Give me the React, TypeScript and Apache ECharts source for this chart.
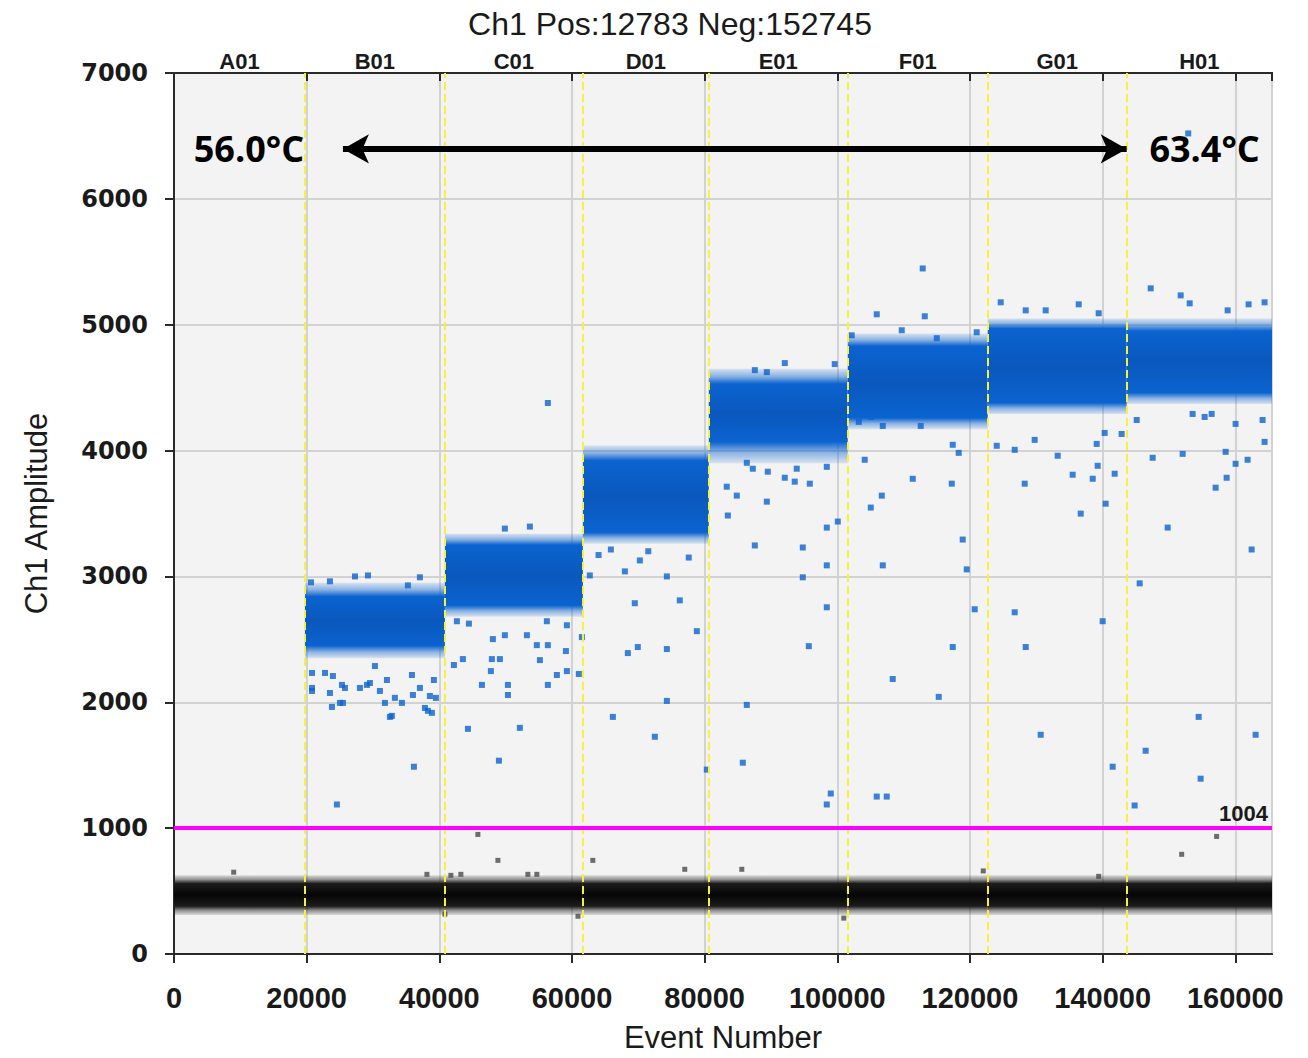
import React, { useEffect, useRef } from "react";
import * as echarts from "echarts";

// ---------- data ----------
const wellNames = ["A01", "B01", "C01", "D01", "E01", "F01", "G01", "H01"];
const wellStarts = [0, 19740, 40840, 61640, 80620, 101570, 122670, 143620];
const totalEvents = 165528;
const posCount = 12783;
const negCount = 152745;
const threshold = 1004;
const tempLow = "56.0°C";
const tempHigh = "63.4°C";

// positive droplet cluster per well (null = no cluster): dense core and outer spread
const posCoreLo = [null, 2450, 2770, 3350, 4070, 4260, 4380, 4460];
const posCoreHi = [null, 2840, 3250, 3920, 4530, 4830, 4970, 4950];
const posSpreadLo = [null, 2350, 2680, 3260, 3900, 4170, 4290, 4370];
const posSpreadHi = [null, 2950, 3340, 4040, 4650, 4930, 5050, 5050];

// negative droplet cluster per well
const negCoreLo = [380, 380, 380, 380, 380, 380, 380, 380];
const negCoreHi = [560, 560, 560, 560, 560, 560, 560, 560];
const negSpreadLo = [310, 310, 310, 310, 310, 310, 310, 310];
const negSpreadHi = [625, 625, 625, 625, 625, 625, 625, 625];

// isolated positive droplets [event, amplitude]
const bluePoints = [
  [24560, 1188], [36170, 1488], [20800, 2114], [22760, 2233], [25020, 1995], [25770, 2114],
  [28030, 2114], [29540, 2153], [31800, 1995], [32850, 1892], [34360, 1995], [37070, 2114],
  [37830, 1955], [38580, 2050], [38880, 1916], [39480, 2035], [30290, 2288], [20800, 2233],
  [23960, 2209], [25320, 2138], [20800, 2090], [23510, 2074], [23810, 1963], [25470, 1995],
  [29090, 2138], [32100, 2177], [31040, 2090], [32550, 1884], [33300, 2035], [35870, 2217],
  [36020, 2058], [38280, 1932], [39180, 2177],
  [29240, 3008], [37070, 2993], [20650, 2953], [23510, 2961], [35260, 2929], [27280, 3000],
  [44310, 1789], [48980, 1536], [52140, 1797], [42650, 2644], [44460, 2625], [48070, 2502],
  [49880, 2533], [53200, 2533], [54700, 2454], [56210, 2644], [56360, 2454], [59230, 2612],
  [59080, 2407], [57720, 2217], [59230, 2248], [61030, 2225], [61490, 2518], [42200, 2296],
  [43550, 2343], [47770, 2248], [47920, 2343], [49130, 2343], [46420, 2138], [50340, 2138],
  [50340, 2058], [56360, 2138], [55160, 2335], [53650, 3396], [49880, 3380], [56360, 4378],
  [65860, 3214], [67970, 3040], [69470, 2787], [70230, 3127], [74300, 3000], [76250, 2810],
  [78820, 2565], [68420, 2391], [69920, 2439], [74300, 2423], [74300, 2011], [66160, 1884],
  [72490, 1726], [80320, 1465], [62690, 3008], [64000, 3170], [71500, 3200], [77600, 3150],
  [83330, 3713], [84840, 3642], [83490, 3484], [87560, 3246], [89370, 3594], [94790, 3230],
  [94790, 2993], [98410, 3388], [98410, 3088], [98410, 2755], [95700, 2446], [86350, 1979],
  [85750, 1520], [98410, 1188], [99010, 1275], [100070, 3436],
  [86350, 3903], [87260, 3856], [89520, 3832], [92080, 3784], [93580, 3753], [95850, 3737],
  [98410, 3871], [93880, 3856], [92080, 4695], [99610, 4687], [87560, 4639], [89370, 4623],
  [112870, 5447], [105940, 5083], [113180, 5067], [102170, 4916], [109710, 4956], [114990, 4893],
  [121010, 4940], [103230, 4228], [105040, 4267], [106850, 4196], [112570, 4196], [117400, 4046],
  [118300, 3982], [104130, 3927], [106700, 3642], [105040, 3547], [111370, 3776], [117250, 3737],
  [118900, 3293], [106850, 3088], [119510, 3056], [120710, 2739], [117400, 2439], [108350, 2185],
  [115290, 2043], [105940, 1251], [107450, 1251],
  [124630, 5178], [147240, 5289], [136390, 5162], [131410, 5114], [128400, 5114], [139400, 5091],
  [151760, 5233], [153120, 5170], [162000, 5162], [164410, 5178], [158840, 5114],
  [124030, 4038], [126740, 4006], [129750, 4085], [133220, 3959], [135480, 3808], [139100, 4053],
  [139250, 3879], [138500, 3776], [141810, 3816], [140450, 3578], [136690, 3499], [128250, 3737],
  [140300, 4140], [142860, 4132], [126740, 2715], [128400, 2439], [140000, 2644], [130660, 1742],
  [141510, 1488],
  [147540, 3943], [152060, 3974], [158540, 3990], [160040, 3895], [161850, 3927], [164410, 4069],
  [157030, 3705], [158690, 3784], [149800, 3388], [162460, 3214], [145580, 2945], [146480, 1615],
  [154470, 1884], [154770, 1393], [163060, 1742], [144820, 1180], [145130, 4243], [153560, 4291],
  [155370, 4267], [156430, 4291], [160040, 4212], [164110, 4243], [152900, 6520]
];

// isolated negative droplets [event, amplitude]
const grayPoints = [
  [45810, 950], [48830, 744], [63140, 744], [77000, 673], [85600, 673], [38130, 633],
  [41740, 625], [43250, 633], [53350, 633], [54700, 633], [100970, 285], [157180, 934],
  [151910, 792], [139400, 617], [40840, 317], [9000, 650], [60900, 300], [122000, 660]
];

const xTickInterval = 20000;
const yMax = 7000;
const yTickInterval = 1000;

// ---------- chart ----------
function bands(lo: (number | null)[], hi: (number | null)[], cLo: (number | null)[], cHi: (number | null)[]) {
  const out: number[][] = [];
  for (let i = 0; i < wellStarts.length; i++) {
    if (lo[i] == null || hi[i] == null) continue;
    const end = i + 1 < wellStarts.length ? wellStarts[i + 1] : totalEvents;
    out.push([wellStarts[i], end, lo[i] as number, hi[i] as number, cLo[i] as number, cHi[i] as number]);
  }
  return out;
}

function clusterSeries(data: number[][], rgb: string, centre: string, z: number) {
  return {
    type: "custom",
    z,
    silent: true,
    clip: true,
    renderItem: (params: any, api: any) => {
      const lo = api.value(2);
      const hi = api.value(3);
      const cLo = api.value(4);
      const cHi = api.value(5);
      const p0 = api.coord([api.value(0), hi]);
      const p1 = api.coord([api.value(1), lo]);
      const span = hi - lo;
      const fTop = (hi - cHi) / span;
      const fBot = (hi - cLo) / span;
      const fMid = (fTop + fBot) / 2;
      const fill = new echarts.graphic.LinearGradient(0, 0, 0, 1, [
        { offset: 0, color: `rgba(${rgb},0.12)` },
        { offset: fTop * 0.5, color: `rgba(${rgb},0.45)` },
        { offset: fTop, color: `rgba(${rgb},1)` },
        { offset: fMid, color: centre },
        { offset: fBot, color: `rgba(${rgb},1)` },
        { offset: fBot + (1 - fBot) * 0.5, color: `rgba(${rgb},0.45)` },
        { offset: 1, color: `rgba(${rgb},0.12)` },
      ]);
      return {
        type: "rect",
        shape: { x: p0[0], y: p0[1], width: p1[0] - p0[0], height: p1[1] - p0[1] },
        style: { fill },
      };
    },
    encode: { x: [0, 1], y: [2, 3] },
    data,
  };
}

export default function App() {
  const ref = useRef<HTMLDivElement>(null);
  useEffect(() => {
    if (!ref.current) return;
    const chart = echarts.init(ref.current, null, { renderer: "svg" });
    const wellData = wellNames.map((n, i) => [
      wellStarts[i],
      i + 1 < wellStarts.length ? wellStarts[i + 1] : totalEvents,
      n,
    ]);
    const arrowY = 6397;
    chart.setOption({
      animation: false,
      backgroundColor: "#ffffff",
      title: {
        text: `Ch1 Pos:${posCount} Neg:${negCount}`,
        left: 665,
        top: 3,
        textAlign: "center",
        textStyle: { fontFamily: "Liberation Sans", fontSize: 32, fontWeight: "normal", color: "#1a1a1a" },
      },
      grid: {
        left: 174,
        top: 73,
        right: 36,
        bottom: 101,
        show: true,
        backgroundColor: "#f3f3f3",
        borderColor: "#2a2a2a",
        borderWidth: 2,
      },
      xAxis: [
        {
          type: "value",
          min: 0,
          max: totalEvents,
          interval: xTickInterval,
          name: "Event Number",
          nameLocation: "middle",
          nameGap: 68,
          nameTextStyle: { fontFamily: "Liberation Sans", fontSize: 31, color: "#1a1a1a" },
          axisLine: { show: true, lineStyle: { color: "#2a2a2a", width: 2 } },
          axisTick: { show: true, length: 9, inside: false, lineStyle: { color: "#2a2a2a", width: 2 } },
          axisLabel: {
            showMaxLabel: false,
            margin: 29,
            formatter: (v: number) => String(v),
            fontFamily: "Liberation Sans",
            fontWeight: "bold",
            fontSize: 29,
            color: "#1a1a1a",
          },
          splitLine: { show: true, lineStyle: { color: "#d2d2d2", width: 2 } },
        },
        {
          type: "value",
          position: "top",
          min: 0,
          max: totalEvents,
          interval: xTickInterval,
          axisLine: { show: true, lineStyle: { color: "#2a2a2a", width: 2 } },
          axisTick: { show: true, inside: true, length: 8, lineStyle: { color: "#2a2a2a", width: 2 } },
          axisLabel: { show: false },
          splitLine: { show: false },
        },
      ],
      yAxis: {
        type: "value",
        min: 0,
        max: yMax,
        interval: yTickInterval,
        name: "Ch1 Amplitude",
        nameLocation: "middle",
        nameGap: 122,
        nameTextStyle: { fontFamily: "Liberation Sans", fontSize: 31, color: "#1a1a1a" },
        axisLine: { show: true, lineStyle: { color: "#2a2a2a", width: 2 } },
        axisTick: { show: true, length: 9, lineStyle: { color: "#2a2a2a", width: 2 } },
        axisLabel: {
          margin: 26,
          formatter: (v: number) => String(v),
          fontFamily: "DejaVu Sans",
          fontWeight: "bold",
          fontSize: 24,
          color: "#1a1a1a",
        },
        splitLine: { show: true, lineStyle: { color: "#d2d2d2", width: 2 } },
      },
      series: [
        clusterSeries(bands(negSpreadLo, negSpreadHi, negCoreLo, negCoreHi), "28,28,28", "#050505", 2),
        clusterSeries(bands(posSpreadLo, posSpreadHi, posCoreLo, posCoreHi), "11,99,208", "#0a58bd", 2),
        {
          type: "scatter",
          z: 4,
          symbol: "rect",
          symbolSize: 5,
          itemStyle: { color: "#4a4a4a" },
          data: grayPoints,
          silent: true,
        },
        {
          type: "scatter",
          z: 4,
          symbol: "rect",
          symbolSize: 6,
          itemStyle: { color: "#0b63d0" },
          data: bluePoints,
          silent: true,
        },
        {
          type: "line",
          z: 5,
          data: [],
          silent: true,
          markLine: {
            silent: true,
            symbol: "none",
            label: { show: false },
            lineStyle: { color: "#f6f23a", width: 2, type: [8, 4] },
            data: wellStarts.slice(1).map((v) => ({ xAxis: v })),
          },
        },
        {
          type: "line",
          z: 6,
          data: [],
          silent: true,
          markLine: {
            silent: true,
            symbol: "none",
            lineStyle: { color: "#ff00ff", width: 4, type: "solid" },
            label: {
              show: true,
              position: "insideEndTop",
              formatter: String(threshold),
              fontFamily: "Liberation Sans",
              fontWeight: "bold",
              fontSize: 22,
              color: "#1a1a1a",
              distance: [4, 3],
            },
            data: [{ yAxis: threshold }],
          },
        },
        {
          type: "line",
          z: 7,
          data: [],
          silent: true,
          markLine: {
            silent: true,
            symbol: ["arrow", "arrow"],
            symbolSize: [22, 26],
            lineStyle: { color: "#000000", width: 6, type: "solid" },
            label: { show: false },
            data: [[{ coord: [25470, arrowY] }, { coord: [143620, arrowY] }]],
          },
          markPoint: {
            silent: true,
            symbol: "rect",
            symbolSize: 1,
            itemStyle: { color: "rgba(0,0,0,0)" },
            label: {
              show: true,
              position: "inside",
              formatter: "{b}",
              fontFamily: "Open Sans",
              fontWeight: "bold",
              fontSize: 36,
              color: "#000000",
            },
            data: [
              { name: tempLow, coord: [11300, arrowY] },
              { name: tempHigh, coord: [155370, arrowY] },
            ],
          },
        },
        {
          type: "custom",
          z: 8,
          silent: true,
          clip: false,
          xAxisIndex: 1,
          renderItem: (params: any, api: any) => {
            const mid = (api.value(0) + api.value(1)) / 2;
            const p = api.coord([mid, yMax]);
            return {
              type: "text",
              style: {
                text: wellNames[params.dataIndex],
                x: p[0],
                y: p[1] - 12,
                align: "center",
                verticalAlign: "middle",
                fontFamily: "Liberation Sans Narrow, Liberation Sans",
                fontWeight: "bold",
                fontSize: 22,
                fill: "#1a1a1a",
              },
            };
          },
          encode: { x: [0, 1] },
          data: wellData,
        },
      ],
    });
    return () => chart.dispose();
  }, []);
  return (
    <div
      ref={ref}
      style={{ position: "fixed", left: 0, top: 0, width: 1308, height: 1058 }}
    />
  );
}
